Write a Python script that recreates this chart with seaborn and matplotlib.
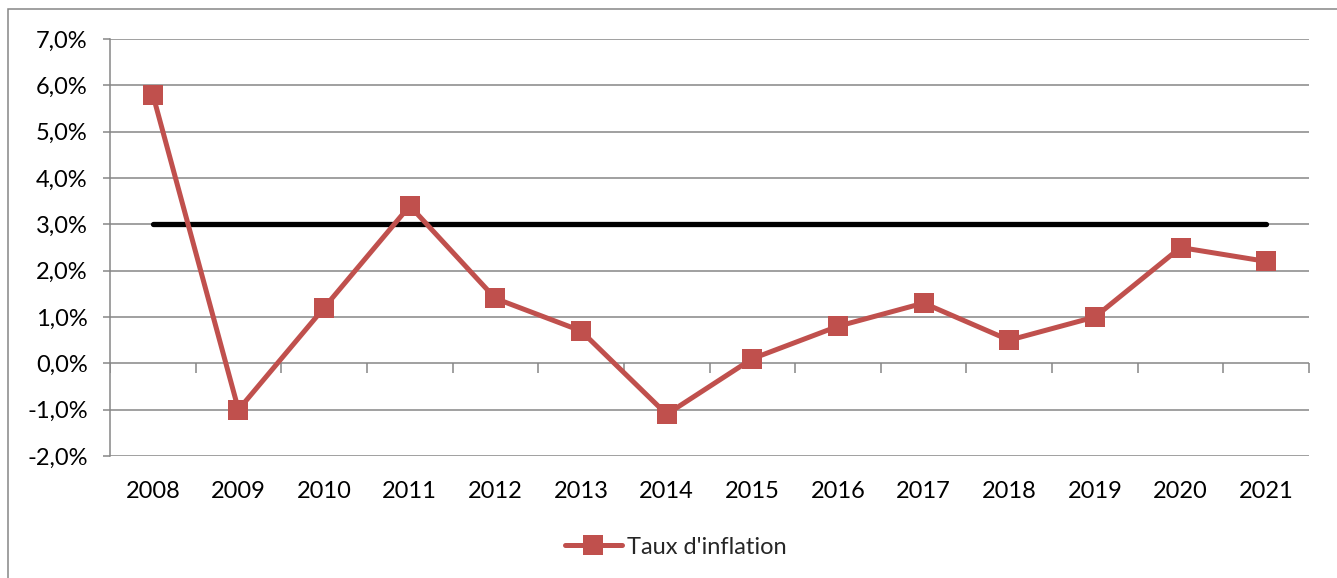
import matplotlib
matplotlib.use("Agg")
import matplotlib.pyplot as plt
import matplotlib.patches as mpatches
from matplotlib.ticker import FuncFormatter, MultipleLocator
import seaborn as sns
import pandas as pd
import numpy as np

years = ["2008", "2009", "2010", "2011", "2012", "2013", "2014",
         "2015", "2016", "2017", "2018", "2019", "2020", "2021"]
inflation = [5.8, -1.0, 1.2, 3.4, 1.4, 0.7, -1.1, 0.1, 0.8, 1.3, 0.5, 1.0, 2.5, 2.2]
target = [3.0] * len(years)
series_label = "Taux d'inflation"

sns.set_theme(style="white")
plt.rcParams['font.family'] = ['Lato', 'DejaVu Sans']

fig = plt.figure(figsize=(13.37, 5.78), dpi=100)
ax = fig.add_axes([110/1337, 1-456/578, (1309-110)/1337, (456-39)/578])

df = pd.DataFrame({"year": years, "rate": inflation, "target": target})
df["pos"] = np.arange(len(years))

grid_c = "#868686"
red = "#C0504D"
fs = 17

ax.set_ylim(-2, 7)
ax.set_xlim(-0.5, len(years) - 0.5)
ax.yaxis.set_major_locator(MultipleLocator(1))
ax.grid(axis="y", color=grid_c, linewidth=1.1, zorder=0)
ax.grid(axis="x", visible=False)

sns.lineplot(data=df, x="pos", y="target", ax=ax, color="black", linewidth=3.8,
             solid_capstyle="round", zorder=3, legend=False)
sns.lineplot(data=df, x="pos", y="rate", ax=ax, color=red, linewidth=3.6,
             marker="s", markersize=14, markeredgewidth=0, markerfacecolor=red,
             zorder=4, label=series_label, legend=False)

# category boundary tick marks on the 0 line
bounds = np.arange(-0.5, len(years), 1.0)
ax.plot(bounds, np.zeros_like(bounds), linestyle="none", marker=3,
        markersize=7, markeredgewidth=1.1, color=grid_c, zorder=2)

for s in ["top", "right", "bottom"]:
    ax.spines[s].set_visible(False)
ax.spines["left"].set_color(grid_c)
ax.spines["left"].set_linewidth(1.1)

ax.set_xticks(df["pos"])
ax.set_xticklabels(years)
ax.tick_params(axis="x", length=0, pad=18, labelsize=fs, labelcolor="black")
ax.tick_params(axis="y", length=5, width=1.1, color=grid_c, left=True,
               pad=11, labelsize=fs, labelcolor="black")
ax.yaxis.set_major_formatter(FuncFormatter(lambda v, p: f"{v:.1f}%".replace(".", ",")))
ax.set_xlabel("")
ax.set_ylabel("")

handles, labels = ax.get_legend_handles_labels()
fig.legend(handles, labels, loc="center", bbox_to_anchor=(676/1337, 1-547/578),
           frameon=False, fontsize=fs, handlelength=2.4, handletextpad=0.25)

fig.patches.append(mpatches.Rectangle((8/1337, -0.05), 1.0, 1.05 - 9/578,
                                      transform=fig.transFigure, fill=False,
                                      edgecolor=grid_c, linewidth=1.1))

fig.savefig("out.png", dpi=100)
